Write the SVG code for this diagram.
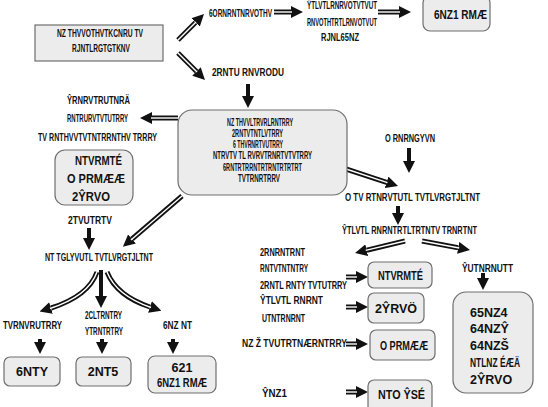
<svg xmlns="http://www.w3.org/2000/svg" width="548" height="407" viewBox="0 0 548 407">
<style>
text{font-family:"Liberation Sans Narrow","Liberation Sans",Arial,sans-serif;font-size:11px;font-weight:bold;fill:#111}
.m{text-anchor:middle}
.b{font-size:12.5px}
.sm{font-size:10px}
.box{fill:#ececec;stroke:#6e6e6e;stroke-width:1.2}
.o{fill:none;stroke:#111;stroke-width:5;marker-end:url(#ah)}
.i{fill:none;stroke:#fff;stroke-width:1.4}
.s{fill:none;stroke:#111;stroke-width:4;marker-end:url(#ah)}
</style>
<defs>
<marker id="ah" viewBox="0 0 12 12" markerWidth="12" markerHeight="12" markerUnits="userSpaceOnUse" refX="0" refY="6" orient="auto">
<path d="M0,0 L12,6 L0,12 z" fill="#111"/>
</marker>
</defs>
<rect width="548" height="407" fill="#fff"/>

<g id="connectors">
<path class="o" d="M178,40 L195.5,22.5"/><path class="i" d="M178,40 L196,22"/>
<path class="o" d="M178,53 L196.5,71.5"/><path class="i" d="M178,53 L197,72"/>
<path class="o" d="M274,12 L291,12"/><path class="i" d="M274,12 L292,12"/>
<path class="o" d="M378,12 L399,12"/><path class="i" d="M378,12 L400,12"/>
<path class="s" d="M248,84 L248,96"/>
<path class="o" d="M178,118 L152,118"/><path class="i" d="M178,118 L151,118"/>
<path class="s" d="M89,228 L89,238"/>
<path class="o" d="M182,196 L132,239"/><path class="i" d="M182,196 L131,240"/>
<path class="o" d="M97,272 C90,292 70,302 51,308"/><path class="i" d="M97,272 C90,292 70,302 50,308.5"/>
<path class="s" d="M101,270 L101,296"/>
<path class="o" d="M107,272 C115,292 135,302 150,307"/><path class="i" d="M107,272 C115,292 135,302 151,307.5"/>
<path class="s" d="M40,339 L40,342"/>
<path class="s" d="M102,339 L102,342"/>
<path class="s" d="M173,339 L173,342"/>
<path class="s" d="M409,148 L409,161"/>
<path class="o" d="M343,168 L386.6,182.3"/><path class="i" d="M343,168 L387.5,182.6"/>
<path class="s" d="M398,206 L398,213"/>
<path class="o" d="M405,241 L366.7,250.2"/><path class="i" d="M405,241 L365.7,250.4"/>
<path class="o" d="M422,241 L458.2,247.8"/><path class="i" d="M422,241 L459.2,248"/>
<path class="o" d="M346,277 L356,277"/><path class="i" d="M346,277 L357,277"/>
<path class="o" d="M346,307 L356,307"/><path class="i" d="M346,307 L357,307"/>
<path class="o" d="M346,344 L356,344"/><path class="i" d="M346,344 L357,344"/>
<path class="o" d="M346,392 L356,392"/><path class="i" d="M346,392 L357,392"/>
<path class="s" d="M483,273 L483,278"/>
</g>

<g id="n-top-left">
<rect class="box" x="35" y="25" width="128" height="36"/>
<text x="57" y="37" textLength="86" lengthAdjust="spacingAndGlyphs">NZ THVVOTHVTKCNRU TV</text>
<text x="72" y="52" textLength="58" lengthAdjust="spacingAndGlyphs">RJNTLRGTGTKNV</text>
</g>

<g id="n-label-top">
<text x="209" y="17" textLength="63" lengthAdjust="spacingAndGlyphs">6ORNRNTNRVOTHV</text>
</g>

<g id="n-top-mid">
<text x="307" y="9" textLength="70" lengthAdjust="spacingAndGlyphs">ŶTLVTLRNRVOTVTVUT</text>
<text x="307" y="26" textLength="70" lengthAdjust="spacingAndGlyphs">RNVOTHTRTLRNVOTVUT</text>
<text x="321" y="41" textLength="38" lengthAdjust="spacingAndGlyphs">RJNL65NZ</text>
</g>

<g id="n-top-right">
<rect class="box" x="423" y="-4" width="67" height="35" rx="7"/>
<text class="b" x="434" y="19" textLength="53" lengthAdjust="spacingAndGlyphs">6NZ1 RMÆ</text>
</g>

<g id="n-label-mid">
<text x="212" y="76" textLength="72" lengthAdjust="spacingAndGlyphs">2RNTU RNVRODU</text>
</g>

<g id="n-center">
<rect class="box" x="178" y="110" width="169" height="85" rx="14"/>
<text x="227" y="126" textLength="66" lengthAdjust="spacingAndGlyphs">NZ THVVLTRVRLRNTRRY</text>
<text x="232" y="137" textLength="51" lengthAdjust="spacingAndGlyphs">2RNTVTNTLVTRRY</text>
<text x="233" y="148" textLength="50" lengthAdjust="spacingAndGlyphs">6 THVRNRTVUTRRY</text>
<text x="213" y="159" textLength="99" lengthAdjust="spacingAndGlyphs">NTRVTV TL RVRVTRNRTVTVTRRY</text>
<text x="223" y="171" textLength="79" lengthAdjust="spacingAndGlyphs">6RNTRTRRNTRTRNTRTRTRT</text>
<text x="238" y="182" textLength="42" lengthAdjust="spacingAndGlyphs">TVTRNRTRRV</text>
</g>

<g id="n-left-text">
<text x="67" y="104" textLength="63" lengthAdjust="spacingAndGlyphs">ŶRNRVTRUTNRÄ</text>
<text x="67" y="122" textLength="61" lengthAdjust="spacingAndGlyphs">RNTRURVTVTUTRRY</text>
<text x="38" y="141" textLength="119" lengthAdjust="spacingAndGlyphs">TV RNTHVVTVTNTRRNTHV TRRRY</text>
</g>

<g id="n-left-box">
<rect class="box" x="55" y="150" width="78" height="55" rx="10"/>
<text class="b" x="75" y="165" textLength="47" lengthAdjust="spacingAndGlyphs">NTVRMTÉ</text>
<text class="b" x="67" y="183" textLength="58" lengthAdjust="spacingAndGlyphs">O PRMÆÆ</text>
<text class="b" x="72" y="201" textLength="38" lengthAdjust="spacingAndGlyphs">2ŶRVO</text>
</g>

<g id="n-label-2tvu">
<text x="68" y="224" textLength="44" lengthAdjust="spacingAndGlyphs">2TVUTRTV</text>
</g>

<g id="n-left-mid">
<text x="45" y="261" textLength="108" lengthAdjust="spacingAndGlyphs">NT TGLYVUTL TVTLVRGTJLTNT</text>
</g>

<g id="n-left-labels">
<text class="sm" x="3" y="329" textLength="59" lengthAdjust="spacingAndGlyphs">TVRNVRUTRRY</text>
<text class="sm" x="85" y="319" textLength="37" lengthAdjust="spacingAndGlyphs">2CLTRNTRY</text>
<text class="sm" x="85" y="335" textLength="38" lengthAdjust="spacingAndGlyphs">YTRNTRTRY</text>
<text x="163" y="329" textLength="29" lengthAdjust="spacingAndGlyphs">6NZ NT</text>
</g>

<g id="n-b1">
<rect class="box" x="4" y="357" width="56" height="29" rx="6"/>
<text class="b m" x="32" y="376">6NTY</text>
</g>
<g id="n-b2">
<rect class="box" x="76" y="357" width="55" height="29" rx="6"/>
<text class="b m" x="103" y="376">2NT5</text>
</g>
<g id="n-b3">
<rect class="box" x="148" y="356" width="68" height="37" rx="7"/>
<text class="b m" x="182" y="372">621</text>
<text class="b" x="157" y="387" textLength="50" lengthAdjust="spacingAndGlyphs">6NZ1 RMÆ</text>
</g>

<g id="n-right-label">
<text x="385" y="142" textLength="50" lengthAdjust="spacingAndGlyphs">O RNRNGYVN</text>
</g>

<g id="n-right-mid">
<text x="345" y="201" textLength="135" lengthAdjust="spacingAndGlyphs">O TV RTNRVTUTL TVTLVRGTJLTNT</text>
</g>

<g id="n-right-mid2">
<text x="342" y="234" textLength="135" lengthAdjust="spacingAndGlyphs">ŶTLVTL RNRNTRTLTRTNTV TRNRTNT</text>
</g>

<g id="n-br-text">
<text x="260" y="256" textLength="45" lengthAdjust="spacingAndGlyphs">2RNRNTRNT</text>
<text x="260" y="272" textLength="48" lengthAdjust="spacingAndGlyphs">RNTVTNTNTRY</text>
<text x="260" y="289" textLength="87" lengthAdjust="spacingAndGlyphs">2RNTL RNTY TVTUTRRY</text>
<text x="260" y="304" textLength="63" lengthAdjust="spacingAndGlyphs">ŶTLVTL RNRNT</text>
<text x="262" y="322" textLength="43" lengthAdjust="spacingAndGlyphs">UTNTRNRNT</text>
<text x="242" y="347" textLength="105" lengthAdjust="spacingAndGlyphs">NZ Ž TVUTRTNÆRNTRRY</text>
<text x="262" y="397" textLength="25" lengthAdjust="spacingAndGlyphs">ŶNZ1</text>
</g>

<g id="n-r1">
<rect class="box" x="368" y="262" width="64" height="26" rx="6"/>
<text class="b" x="378" y="280" textLength="45" lengthAdjust="spacingAndGlyphs">NTVRMTÉ</text>
</g>
<g id="n-r2">
<rect class="box" x="368" y="293" width="56" height="30" rx="6"/>
<text class="b m" x="396" y="313">2ŶRVÖ</text>
</g>
<g id="n-r3">
<rect class="box" x="370" y="330" width="65" height="30" rx="6"/>
<text class="b" x="380" y="350" textLength="48" lengthAdjust="spacingAndGlyphs">O PRMÆÆ</text>
</g>
<g id="n-r4">
<rect class="box" x="368" y="380" width="64" height="32" rx="6"/>
<text class="b" x="378" y="399" textLength="47" lengthAdjust="spacingAndGlyphs">NTO ŶSÉ</text>
</g>

<g id="n-far-right-label">
<text x="462" y="272" textLength="51" lengthAdjust="spacingAndGlyphs">ŶUTNRNUTT</text>
</g>

<g id="n-far-right-box">
<rect class="box" x="453" y="292" width="80" height="101" rx="13"/>
<text class="b" x="470" y="317">65NZ4</text>
<text class="b" x="470" y="333">64NZŶ</text>
<text class="b" x="470" y="350">64NZŠ</text>
<text class="b" x="470" y="367" textLength="50" lengthAdjust="spacingAndGlyphs">NTLNZ ÉÆÄ</text>
<text class="b" x="470" y="384">2ŶRVO</text>
</g>
</svg>
